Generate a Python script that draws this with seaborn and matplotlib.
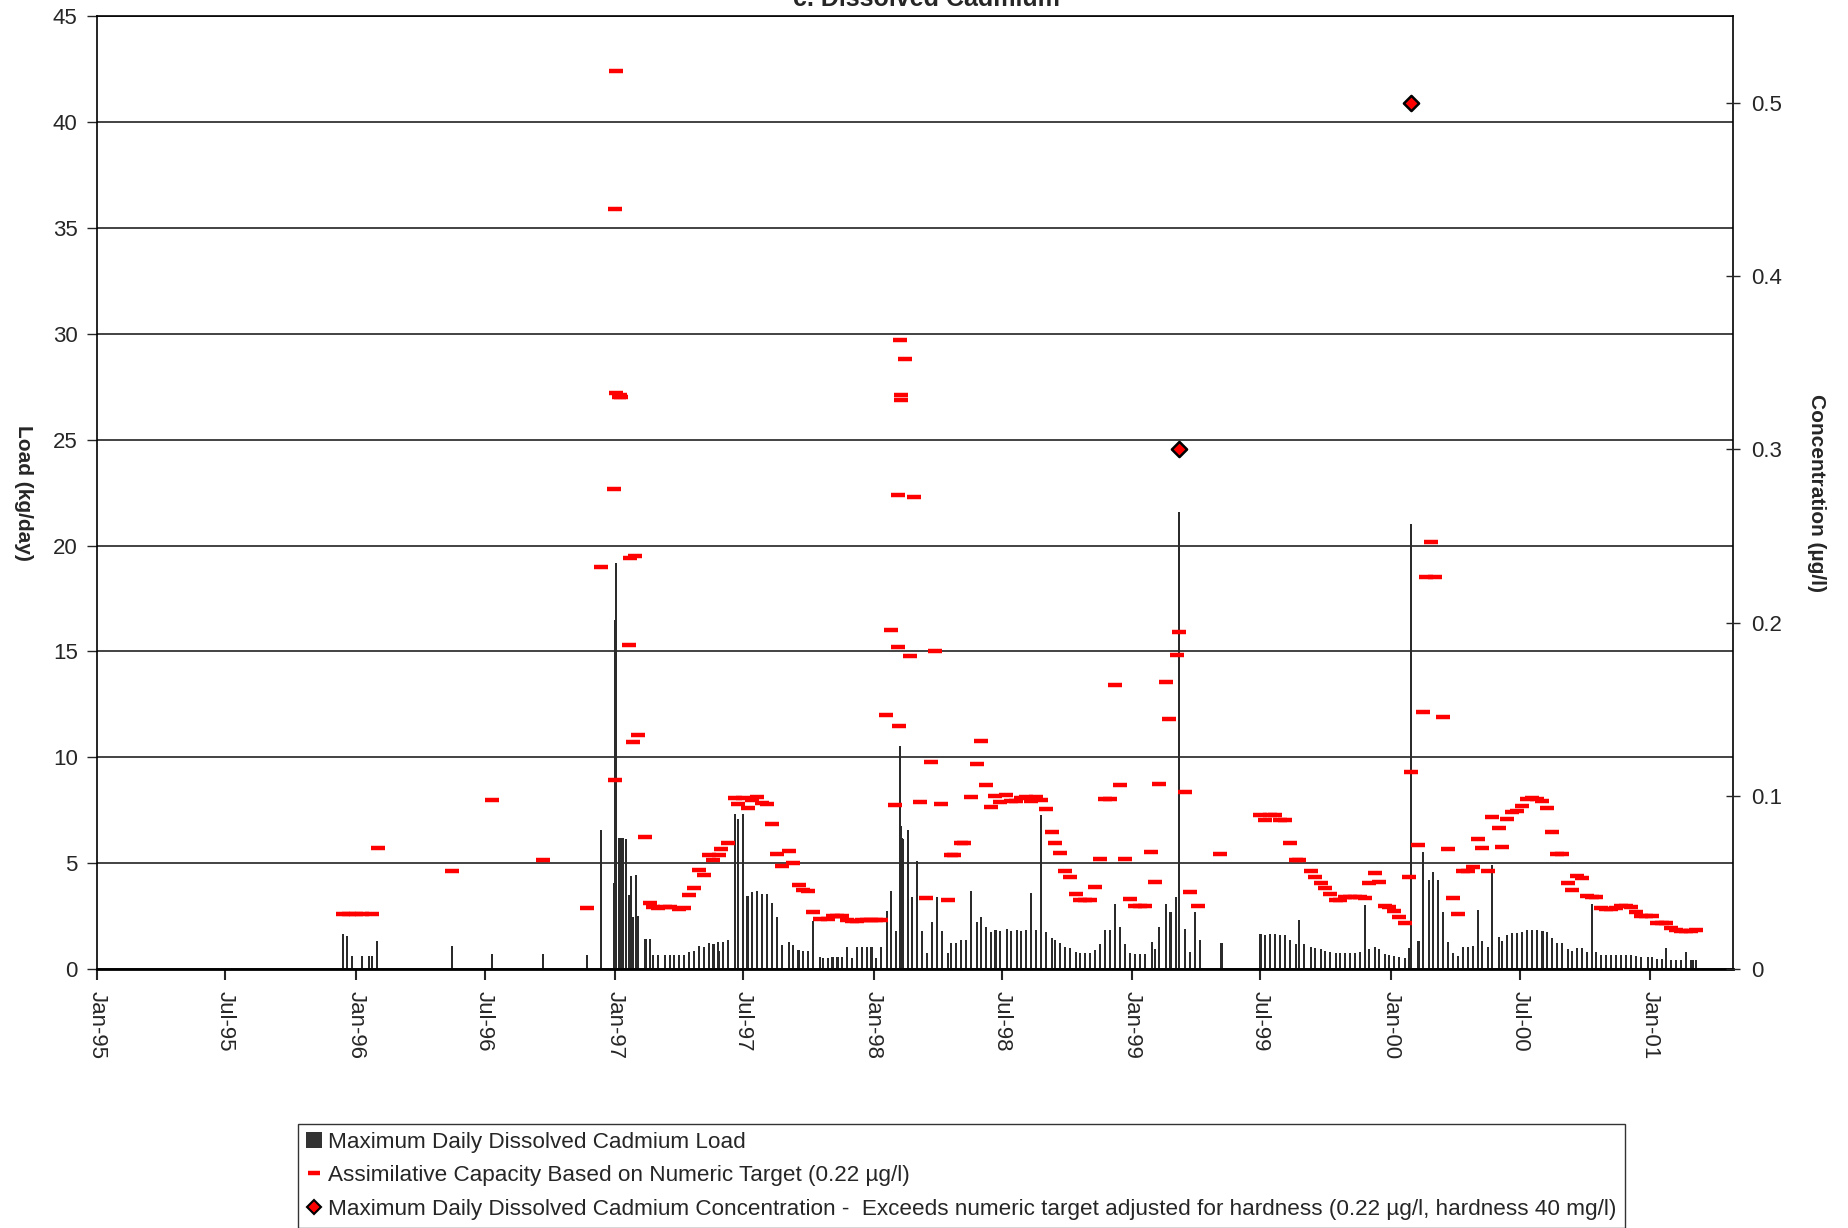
import pandas as pd
import matplotlib.pyplot as plt
import matplotlib.dates as mdates
from matplotlib.lines import Line2D
from matplotlib.patches import Patch
import seaborn as sns

# Maximum daily dissolved cadmium load (kg/day)
load_dates = ['1995-12-14', '1995-12-20', '1995-12-27', '1996-01-10', '1996-01-20', '1996-01-24', '1996-01-31',
              '1996-05-16', '1996-07-12', '1996-09-21', '1996-11-22', '1996-12-12', '1996-12-30', '1997-01-01',
              '1997-01-02', '1997-01-07', '1997-01-09', '1997-01-12', '1997-01-16', '1997-01-21', '1997-01-24',
              '1997-01-27', '1997-01-31', '1997-02-03', '1997-02-13', '1997-02-19', '1997-02-24', '1997-03-03',
              '1997-03-12', '1997-03-19', '1997-03-25', '1997-04-01', '1997-04-08', '1997-04-15', '1997-04-22',
              '1997-04-29', '1997-05-06', '1997-05-13', '1997-05-20', '1997-05-27', '1997-05-28', '1997-06-03',
              '1997-06-09', '1997-06-19', '1997-06-23', '1997-06-30', '1997-07-07', '1997-07-14', '1997-07-21',
              '1997-07-28', '1997-08-04', '1997-08-11', '1997-08-18', '1997-08-25', '1997-09-03', '1997-09-09',
              '1997-09-17', '1997-09-23', '1997-09-30', '1997-10-08', '1997-10-17', '1997-10-21', '1997-10-28',
              '1997-11-04', '1997-11-11', '1997-11-17', '1997-11-24', '1997-12-01', '1997-12-08', '1997-12-15',
              '1997-12-22', '1997-12-29', '1998-01-04', '1998-01-11', '1998-01-20', '1998-01-26', '1998-02-02',
              '1998-02-07', '1998-02-08', '1998-02-09', '1998-02-10', '1998-02-12', '1998-02-18', '1998-02-24',
              '1998-03-03', '1998-03-10', '1998-03-17', '1998-03-24', '1998-03-31', '1998-04-07', '1998-04-16',
              '1998-04-20', '1998-04-27', '1998-05-04', '1998-05-11', '1998-05-18', '1998-05-27', '1998-06-02',
              '1998-06-08', '1998-06-15', '1998-06-22', '1998-06-29', '1998-07-08', '1998-07-14', '1998-07-22',
              '1998-07-28', '1998-08-04', '1998-08-11', '1998-08-18', '1998-08-25', '1998-09-01', '1998-09-10',
              '1998-09-14', '1998-09-21', '1998-09-28', '1998-10-05', '1998-10-13', '1998-10-19', '1998-10-26',
              '1998-11-02', '1998-11-09', '1998-11-16', '1998-11-23', '1998-12-01', '1998-12-08', '1998-12-15',
              '1998-12-22', '1998-12-29', '1999-01-05', '1999-01-12', '1999-01-19', '1999-01-29', '1999-02-02',
              '1999-02-08', '1999-02-18', '1999-02-24', '1999-03-04', '1999-03-08', '1999-03-17', '1999-03-24',
              '1999-03-31', '1999-04-07', '1999-05-07', '1999-07-01', '1999-07-08', '1999-07-15', '1999-07-21',
              '1999-07-29', '1999-08-04', '1999-08-11', '1999-08-20', '1999-08-25', '1999-09-01', '1999-09-10',
              '1999-09-16', '1999-09-24', '1999-09-30', '1999-10-07', '1999-10-15', '1999-10-21', '1999-10-28',
              '1999-11-04', '1999-11-11', '1999-11-18', '1999-11-25', '1999-12-01', '1999-12-09', '1999-12-15',
              '1999-12-24', '1999-12-29', '2000-01-05', '2000-01-12', '2000-01-21', '2000-01-26', '2000-01-30',
              '2000-02-09', '2000-02-16', '2000-02-24', '2000-03-01', '2000-03-08', '2000-03-15', '2000-03-22',
              '2000-03-29', '2000-04-05', '2000-04-12', '2000-04-19', '2000-04-26', '2000-05-03', '2000-05-09',
              '2000-05-17', '2000-05-23', '2000-06-01', '2000-06-06', '2000-06-13', '2000-06-20', '2000-06-27',
              '2000-07-04', '2000-07-11', '2000-07-18', '2000-07-25', '2000-08-02', '2000-08-09', '2000-08-16',
              '2000-08-23', '2000-08-30', '2000-09-07', '2000-09-13', '2000-09-20', '2000-09-27', '2000-10-04',
              '2000-10-11', '2000-10-17', '2000-10-24', '2000-10-31', '2000-11-07', '2000-11-14', '2000-11-21',
              '2000-11-28', '2000-12-05', '2000-12-12', '2000-12-19', '2000-12-29', '2001-01-04', '2001-01-10',
              '2001-01-18', '2001-01-24', '2001-01-31', '2001-02-07', '2001-02-14', '2001-02-21', '2001-02-28',
              '2001-03-02', '2001-03-07']
load_values = [1.65, 1.54, 0.6, 0.6, 0.6, 0.6, 1.31,
               1.07, 0.71, 0.71, 0.65, 6.55, 4.06, 16.5,
               19.2, 6.19, 6.19, 6.19, 6.13, 3.51, 4.39,
               2.47, 4.43, 2.5, 1.42, 1.42, 0.66, 0.66,
               0.66, 0.66, 0.66, 0.66, 0.66, 0.82, 0.85,
               1.09, 1.04, 1.23, 1.18, 1.28, 0.83, 1.28,
               1.37, 7.32, 7.09, 7.32, 3.46, 3.64, 3.69,
               3.54, 3.54, 3.12, 2.46, 1.15, 1.28, 1.15,
               0.9, 0.85, 0.85, 2.25, 0.57, 0.52, 0.52,
               0.57, 0.57, 0.57, 1.04, 0.52, 1.04, 1.04,
               1.04, 1.04, 0.52, 1.04, 2.72, 3.7, 1.78,
               10.55, 5.1, 6.74, 6.19, 6.14, 6.55, 3.4,
               5.09, 1.78, 0.76, 2.22, 3.4, 1.78, 0.76,
               1.23, 1.23, 1.37, 1.37, 3.69, 2.22, 2.46,
               1.98, 1.75, 1.84, 1.78, 1.89, 1.8, 1.84,
               1.8, 1.84, 3.57, 1.84, 7.26, 1.75, 1.46,
               1.37, 1.23, 1.04, 0.99, 0.8, 0.76, 0.76,
               0.76, 0.9, 1.18, 1.84, 1.84, 3.07, 1.98,
               1.18, 0.76, 0.71, 0.71, 0.71, 1.28, 0.94,
               1.98, 3.07, 2.69, 3.4, 21.6, 1.89, 0.8,
               2.69, 1.37, 1.23, 1.65, 1.6, 1.65, 1.65,
               1.6, 1.6, 1.37, 1.18, 2.31, 1.18, 1.04,
               0.99, 0.94, 0.85, 0.8, 0.76, 0.76, 0.76,
               0.76, 0.76, 0.8, 3.02, 0.94, 1.04, 0.94,
               0.71, 0.66, 0.61, 0.57, 0.52, 0.99, 21.0,
               1.32, 5.53, 4.2, 4.58, 4.2, 2.69, 1.28,
               0.76, 0.61, 1.04, 1.04, 1.09, 2.79, 1.32,
               1.04, 4.91, 1.51, 1.32, 1.6, 1.7, 1.7,
               1.75, 1.84, 1.84, 1.84, 1.8, 1.75, 1.46,
               1.23, 1.23, 0.94, 0.85, 0.99, 0.99, 0.8,
               3.07, 0.8, 0.66, 0.66, 0.66, 0.66, 0.66,
               0.66, 0.66, 0.61, 0.57, 0.57, 0.57, 0.47,
               0.47, 0.99, 0.43, 0.43, 0.43, 0.8, 0.43,
               0.43, 0.43]

# Assimilative capacity based on numeric target (kg/day)
cap_dates = ['1995-12-14', '1995-12-22', '1996-01-01', '1996-01-10', '1996-01-24', '1996-02-01', '1996-05-16',
             '1996-07-12', '1996-09-21', '1996-11-22', '1996-12-12', '1996-12-30', '1997-01-01', '1997-01-01',
             '1997-01-02', '1997-01-03', '1997-01-06', '1997-01-08', '1997-01-10', '1997-01-21', '1997-01-22',
             '1997-01-27', '1997-01-29', '1997-02-03', '1997-02-13', '1997-02-19', '1997-02-24', '1997-03-03',
             '1997-03-12', '1997-03-19', '1997-04-01', '1997-04-08', '1997-04-15', '1997-04-22', '1997-04-29',
             '1997-05-06', '1997-05-13', '1997-05-20', '1997-05-28', '1997-05-30', '1997-06-09', '1997-06-19',
             '1997-06-23', '1997-06-30', '1997-07-07', '1997-07-14', '1997-07-21', '1997-07-28', '1997-08-04',
             '1997-08-11', '1997-08-18', '1997-08-25', '1997-09-03', '1997-09-09', '1997-09-17', '1997-09-23',
             '1997-09-30', '1997-10-08', '1997-10-17', '1997-10-28', '1997-11-04', '1997-11-11', '1997-11-17',
             '1997-11-24', '1997-12-01', '1997-12-08', '1997-12-15', '1997-12-22', '1997-12-29', '1998-01-04',
             '1998-01-11', '1998-01-19', '1998-01-25', '1998-01-31', '1998-02-05', '1998-02-05', '1998-02-06',
             '1998-02-07', '1998-02-08', '1998-02-09', '1998-02-14', '1998-02-22', '1998-02-27', '1998-03-08',
             '1998-03-16', '1998-03-23', '1998-03-29', '1998-04-06', '1998-04-16', '1998-04-20', '1998-04-24',
             '1998-05-04', '1998-05-09', '1998-05-18', '1998-05-27', '1998-06-02', '1998-06-08', '1998-06-15',
             '1998-06-22', '1998-06-29', '1998-07-07', '1998-07-14', '1998-07-21', '1998-07-28', '1998-08-04',
             '1998-08-11', '1998-08-18', '1998-08-25', '1998-09-01', '1998-09-10', '1998-09-14', '1998-09-21',
             '1998-09-28', '1998-10-05', '1998-10-13', '1998-10-19', '1998-10-26', '1998-11-02', '1998-11-09',
             '1998-11-16', '1998-11-23', '1998-12-01', '1998-12-08', '1998-12-15', '1998-12-22', '1998-12-29',
             '1999-01-05', '1999-01-12', '1999-01-19', '1999-01-27', '1999-02-02', '1999-02-08', '1999-02-17',
             '1999-02-22', '1999-03-05', '1999-03-08', '1999-03-16', '1999-03-24', '1999-04-04', '1999-05-05',
             '1999-07-01', '1999-07-08', '1999-07-15', '1999-07-21', '1999-07-29', '1999-08-04', '1999-08-11',
             '1999-08-20', '1999-08-25', '1999-09-10', '1999-09-16', '1999-09-24', '1999-09-30', '1999-10-07',
             '1999-10-15', '1999-10-21', '1999-10-28', '1999-11-04', '1999-11-11', '1999-11-18', '1999-11-25',
             '1999-12-01', '1999-12-09', '1999-12-15', '1999-12-24', '1999-12-29', '2000-01-05', '2000-01-12',
             '2000-01-21', '2000-01-26', '2000-01-30', '2000-02-09', '2000-02-15', '2000-02-20', '2000-02-26',
             '2000-03-03', '2000-03-15', '2000-03-22', '2000-03-29', '2000-04-05', '2000-04-12', '2000-04-19',
             '2000-04-26', '2000-05-03', '2000-05-09', '2000-05-17', '2000-05-23', '2000-06-01', '2000-06-06',
             '2000-06-13', '2000-06-20', '2000-06-27', '2000-07-04', '2000-07-11', '2000-07-18', '2000-07-25',
             '2000-08-02', '2000-08-09', '2000-08-16', '2000-08-23', '2000-08-30', '2000-09-07', '2000-09-13',
             '2000-09-20', '2000-09-27', '2000-10-04', '2000-10-11', '2000-10-17', '2000-10-24', '2000-10-31',
             '2000-11-07', '2000-11-14', '2000-11-21', '2000-11-28', '2000-12-05', '2000-12-12', '2000-12-19',
             '2000-12-26', '2001-01-04', '2001-01-10', '2001-01-18', '2001-01-24', '2001-01-31', '2001-02-07',
             '2001-02-14', '2001-02-21', '2001-02-28', '2001-03-07']
cap_values = [2.6, 2.6, 2.6, 2.6, 2.6, 5.72, 4.65,
              8.0, 5.13, 2.88, 19.0, 22.7, 8.93, 35.9,
              42.4, 27.2, 27.0, 27.1, 27.0, 15.3, 19.4,
              10.72, 19.5, 11.07, 6.25, 3.1, 2.94, 2.88,
              2.91, 2.91, 2.85, 2.88, 3.51, 3.83, 4.68,
              4.46, 5.39, 5.13, 5.39, 5.67, 5.94, 8.09,
              7.81, 8.09, 7.61, 8.0, 8.11, 7.84, 7.78,
              6.87, 5.43, 4.87, 5.57, 4.99, 3.97, 3.72,
              3.69, 2.71, 2.38, 2.36, 2.49, 2.49, 2.49,
              2.3, 2.27, 2.27, 2.3, 2.31, 2.31, 2.31,
              2.31, 12.0, 16.0, 7.74, 22.4, 15.2, 11.5,
              29.7, 27.1, 26.9, 28.8, 14.8, 22.3, 7.9,
              3.34, 9.8, 15.0, 7.8, 3.28, 5.4, 5.4,
              5.95, 5.95, 8.11, 9.7, 10.79, 8.68, 7.64,
              8.17, 7.89, 8.24, 7.92, 7.95, 8.08, 8.11,
              7.95, 8.11, 8.0, 7.56, 6.49, 5.95, 5.5,
              4.63, 4.33, 3.54, 3.28, 3.26, 3.26, 3.89,
              5.21, 8.02, 8.05, 13.42, 8.71, 5.2, 3.31,
              2.99, 2.99, 2.99, 5.54, 4.09, 8.76, 13.56,
              11.83, 14.85, 15.9, 8.35, 3.62, 2.98, 5.42,
              7.29, 7.02, 7.29, 7.29, 7.02, 7.05, 5.94,
              5.15, 5.15, 4.63, 4.36, 4.08, 3.81, 3.54,
              3.26, 3.26, 3.39, 3.39, 3.39, 3.39, 3.35,
              4.05, 4.52, 4.09, 2.99, 2.94, 2.72, 2.46,
              2.17, 4.35, 9.29, 5.84, 12.14, 18.5, 20.15,
              18.5, 11.9, 5.67, 3.34, 2.6, 4.61, 4.61,
              4.83, 6.13, 5.73, 4.61, 7.18, 6.66, 5.75,
              7.09, 7.4, 7.46, 7.69, 8.05, 8.08, 8.03,
              7.95, 7.61, 6.46, 5.42, 5.42, 4.06, 3.75,
              4.39, 4.28, 3.45, 3.4, 3.4, 2.9, 2.85,
              2.85, 2.9, 2.96, 2.96, 2.91, 2.71, 2.49,
              2.49, 2.49, 2.17, 2.17, 2.17, 1.92, 1.86,
              1.78, 1.78, 1.81, 1.84]

# Concentrations exceeding the hardness-adjusted target (ug/l, right axis)
conc_dates = ['1999-03-08', '2000-01-30']
conc_values = [0.3, 0.5]

load_ticks = [0, 5, 10, 15, 20, 25, 30, 35, 40, 45]
conc_ticks = [0, 0.1, 0.2, 0.3, 0.4, 0.5]
conc_tick_labels = ['0', '0.1', '0.2', '0.3', '0.4', '0.5']

legend_labels = ['Maximum Daily Dissolved Cadmium Load',
                 'Assimilative Capacity Based on Numeric Target (0.22 \u00b5g/l)',
                 'Maximum Daily Dissolved Cadmium Concentration -  Exceeds numeric target adjusted for hardness (0.22 \u00b5g/l, hardness 40 mg/l)']

sns.set_style('white')
plt.rcParams['font.family'] = ['Liberation Sans', 'DejaVu Sans']

load = pd.DataFrame({'date': pd.to_datetime(load_dates), 'load': load_values})
cap = pd.DataFrame({'date': pd.to_datetime(cap_dates), 'cap': cap_values})
conc = pd.DataFrame({'date': pd.to_datetime(conc_dates), 'conc': conc_values})

fig = plt.figure(figsize=(18.49, 12.28), dpi=100)
ax = fig.add_axes([0.0525, 0.2109, 0.8848, 0.7757])

ax.bar(load['date'], load['load'], width=2.9, color='#2b2b2b', linewidth=0, zorder=2)
sns.scatterplot(data=cap, x='date', y='cap', marker='_', s=95, linewidth=3.2,
                color='#ff0000', ax=ax, zorder=3, legend=False)

ax.set_ylim(0, 45)
ax.set_yticks(load_ticks)
ax.set_xlim(pd.Timestamp('1995-01-01'), pd.Timestamp('2001-04-28'))
ax.xaxis.set_major_locator(mdates.MonthLocator(bymonth=[1, 7]))
ax.xaxis.set_major_formatter(mdates.DateFormatter('%b-%y'))
ax.yaxis.grid(True, color='#222222', linewidth=1.2, zorder=0)
ax.xaxis.grid(False)
ax.set_axisbelow(True)
for sp in ax.spines.values():
    sp.set_color('black')
    sp.set_linewidth(1.2)
ax.spines['bottom'].set_linewidth(2)
ax.tick_params(axis='y', direction='out', length=7, width=1, labelsize=16, pad=7, left=True)
ax.tick_params(axis='x', direction='out', length=8, width=1.5, labelsize=16, pad=8, bottom=True,
               labelrotation=270)
ax.set_xlabel('')
ax.set_ylabel('Load (kg/day)', fontsize=15, fontweight='bold', rotation=270)
ax.yaxis.set_label_coords(-0.051, 0.5)

ax2 = ax.twinx()
sns.scatterplot(data=conc, x='date', y='conc', marker='D', s=60, color='#ff0000',
                edgecolor='black', linewidth=1.8, ax=ax2, zorder=4, legend=False)
ax2.set_ylim(0, 0.55)
ax2.set_yticks(conc_ticks)
ax2.set_yticklabels(conc_tick_labels)
ax2.grid(False)
for sp in ax2.spines.values():
    sp.set_visible(False)
ax2.tick_params(axis='y', direction='inout', length=10, width=1, labelsize=16, pad=8, right=True)
ax2.set_ylabel('Concentration (\u00b5g/l)', fontsize=15, fontweight='bold', rotation=270)
ax2.yaxis.set_label_coords(1.0565, 0.5)

# title sits mostly above the page edge, as in the original export
fig.text(926 / 1849, 1 - 6 / 1228, 'c. Dissolved Cadmium', ha='center', va='baseline',
         fontsize=18, fontweight='bold')

handles = [Patch(facecolor='#333333', edgecolor='none'),
           Line2D([], [], color='#ff0000', marker='_', linestyle='none', markersize=9, markeredgewidth=3.2),
           Line2D([], [], color='#ff0000', marker='D', linestyle='none', markersize=7,
                  markeredgecolor='black', markeredgewidth=1.5)]
leg = fig.legend(handles, legend_labels, loc='upper left', bbox_to_anchor=(298 / 1849, 1 - 1124 / 1228),
                 frameon=True, fancybox=False, edgecolor='black', fontsize=16.2, handlelength=0.7,
                 handleheight=0.7, handletextpad=0.3, borderpad=0.35, labelspacing=0.55, borderaxespad=0)
leg.get_frame().set_linewidth(1.0)

fig.savefig('out.png', dpi=100)
